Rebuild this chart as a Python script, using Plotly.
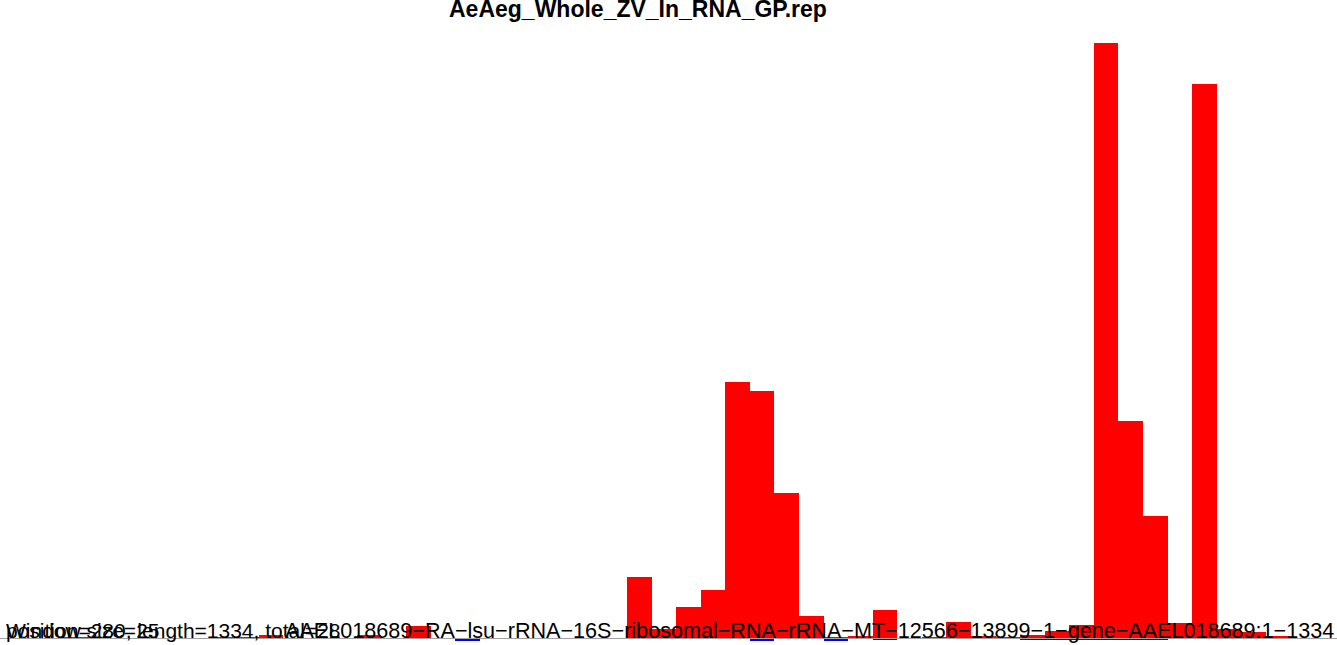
import plotly.graph_objects as go

title = "AeAeg_Whole_ZV_In_RNA_GP.rep"
# window index (25-nt windows) and read counts (estimated)
bins = list(range(54))
pos_counts = [0, 0, 1, 1, 0, 0, 0, 0, 1, 1,
              3, 0, 0, 0, 3, 0, 12, 0, 0, 0,
              0, 0, 0, 0, 0, 61, 9, 31, 48, 256,
              247, 145, 22, 1, 2, 28, 0, 1, 16, 2,
              1, 3, 7, 13, 595, 217, 122, 15, 554, 9,
              6, 2, 0, 0]
neg_counts = [0, 0, 0, 0, 0, 0, 0, 0, 0, 0,
              0, 0, 0, 0, 0, 0, 0, 0, -3, 0,
              0, 0, 0, 0, 0, 0, 0, 0, 0, 0,
              -3, 0, 0, -3, 0, -2, 0, 0, 0, 0,
              0, -2, -2, -2, -2, -2, -2, 0, 0, 0,
              0, 0, 0, 0]
labels = ["Window size=25",
          "position=280, length=1334, total=28",
          "AAEL018689\u2212RA\u2212lsu\u2212rRNA\u221216S\u2212ribosomal\u2212RNA\u2212rRNA\u2212MT\u221212566\u221213899\u22121\u2212gene\u2212AAEL018689:1\u22121334"]

W, H = 1337, 645
centers = [b + 0.5 for b in bins]

fig = go.Figure()
fig.add_trace(go.Bar(x=centers, y=pos_counts, width=1, marker=dict(color="#FF0000", line=dict(width=0))))
fig.add_trace(go.Bar(x=centers, y=neg_counts, width=1, marker=dict(color="#0000FF", line=dict(width=0))))

fig.add_shape(type="line", xref="paper", yref="y", x0=0, x1=1, y0=-0.5, y1=-0.5,
              line=dict(color="#A0A0A0", width=1))

def py(px):
    return 1 - px / H

fig.add_annotation(text="<b>" + title + "</b>", xref="paper", yref="paper",
                   x=637.5 / W, y=py(9), xanchor="center", yanchor="middle", showarrow=False,
                   font=dict(family="Liberation Sans", size=23, color="black"))
fig.add_annotation(text=labels[0], xref="paper", yref="paper", x=4 / W, y=py(630),
                   xanchor="left", yanchor="middle", showarrow=False,
                   font=dict(family="Liberation Sans", size=21, color="black"))
fig.add_annotation(text=labels[1], xref="paper", yref="paper", x=4 / W, y=py(630),
                   xanchor="left", yanchor="middle", showarrow=False,
                   font=dict(family="Liberation Sans", size=21, color="black"))
fig.add_annotation(text=labels[2], xref="paper", yref="paper", x=1336 / W, y=py(630),
                   xanchor="right", yanchor="middle", showarrow=False,
                   font=dict(family="Liberation Sans", size=21.6, color="black"))

fig.update_layout(width=W, height=H, margin=dict(l=0, r=0, t=0, b=0),
                  paper_bgcolor="white", plot_bgcolor="white",
                  barmode="overlay", bargap=0, showlegend=False)
fig.update_xaxes(range=[-0.525, 53.9], visible=False)
fig.update_yaxes(range=[-7, 638], visible=False)
fig.write_html("out.html", config={"displayModeBar": False},
               post_script="document.body.style.margin='0';document.body.style.overflow='hidden';")
